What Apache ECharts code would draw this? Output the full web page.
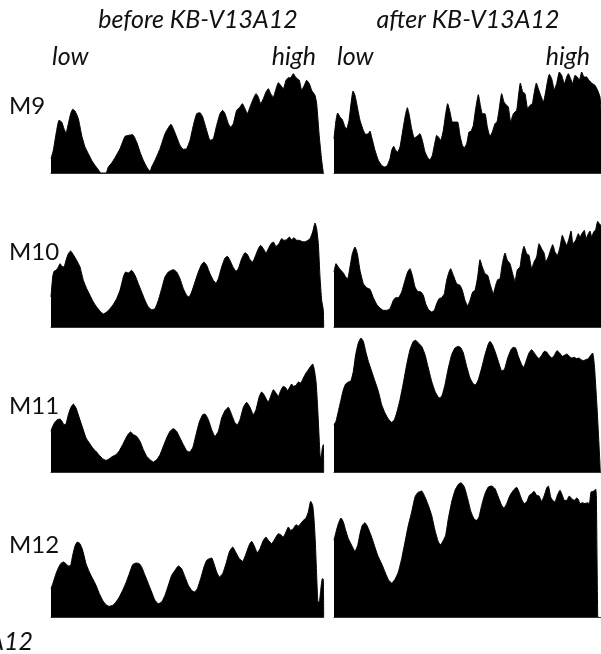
<!DOCTYPE html>
<html><head><meta charset="utf-8">
<script src="https://cdn.jsdelivr.net/npm/echarts@6/dist/echarts.min.js"></script>
<style>html,body{margin:0;padding:0;background:#fff}#c{width:601px;height:654px}</style>
</head><body><div id="c"></div>
<script>
// Column headers, end labels and row (marker) labels
const columnTitles = ['before KB-V13A12', 'after KB-V13A12'];
const endLabels = ['low', 'high'];
const rowLabels = ['M9', 'M10', 'M11', 'M12'];

// Densitometry profiles: [lane position, signal intensity] (arbitrary units)
const m9Before = [[0,43],[7,68],[17,128],[24,158],[32,153],[39,133],[45,120],[52,148],[59,178],[65,191],[72,186],[82,163],[92,113],[102,78],[112,58],[122,38],[132,23],[142,10],[150,0],[165,0],[172,18],[182,30],[192,46],[207,73],[222,110],[232,113],[245,115],[257,93],[267,63],[277,38],[287,18],[297,5],[302,18],[312,38],[327,73],[342,118],[352,136],[360,146],[367,133],[377,108],[387,83],[397,71],[407,73],[417,98],[427,143],[437,178],[447,181],[455,168],[467,128],[477,98],[487,103],[497,143],[507,178],[515,188],[522,178],[532,148],[539,138],[547,148],[557,188],[567,198],[574,208],[582,193],[589,178],[597,198],[607,223],[615,238],[622,228],[629,208],[637,223],[645,243],[652,253],[659,238],[667,228],[675,253],[682,271],[689,263],[697,253],[705,278],[712,286],[719,286],[727,298],[735,286],[745,278],[752,248],[760,263],[767,278],[775,268],[782,248],[792,233],[797,208],[805,108],[812,38],[817,0]];
const m9After = [[0,103],[6,158],[11,180],[18,168],[25,160],[33,138],[38,133],[45,158],[51,208],[57,246],[63,233],[70,198],[78,158],[88,128],[95,116],[103,118],[108,126],[113,108],[123,68],[133,38],[143,23],[151,18],[159,21],[168,43],[173,68],[179,80],[185,68],[191,63],[198,78],[208,138],[215,178],[220,196],[225,178],[233,133],[241,105],[249,110],[258,118],[265,98],[273,63],[283,43],[288,40],[295,53],[303,93],[308,113],[313,108],[320,98],[328,128],[335,178],[341,208],[348,183],[355,153],[363,153],[371,153],[378,113],[385,83],[391,76],[398,88],[405,123],[411,125],[418,143],[425,193],[433,235],[439,203],[445,178],[453,178],[460,138],[468,110],[475,123],[483,148],[489,153],[495,188],[503,238],[510,213],[518,203],[523,198],[530,153],[538,178],[548,188],[553,228],[559,270],[566,243],[573,238],[581,193],[588,203],[595,208],[601,243],[607,270],[613,253],[620,233],[628,213],[635,243],[641,278],[646,296],[653,283],[661,250],[668,268],[676,303],[683,293],[691,268],[698,288],[703,298],[710,283],[716,268],[723,293],[730,288],[736,278],[743,303],[750,288],[758,288],[765,278],[773,270],[783,263],[791,248],[798,228],[801,188]];
const m10Before = [[0,90],[5,150],[9,167],[15,170],[22,180],[27,190],[33,182],[39,180],[45,200],[52,220],[59,228],[67,217],[77,200],[87,180],[97,140],[107,115],[117,95],[127,75],[137,60],[147,48],[157,39],[167,45],[177,55],[187,68],[197,85],[207,110],[217,150],[224,165],[232,162],[242,170],[252,155],[262,130],[272,105],[282,80],[292,60],[302,52],[312,55],[322,80],[332,115],[342,150],[352,165],[367,172],[377,165],[387,145],[397,115],[407,95],[414,90],[422,105],[432,135],[442,165],[452,188],[459,195],[467,185],[477,160],[487,140],[495,132],[502,145],[512,180],[522,207],[529,212],[537,200],[545,182],[555,167],[562,175],[572,205],[582,223],[589,218],[597,202],[605,195],[612,210],[622,235],[629,245],[637,235],[645,222],[652,235],[660,250],[667,255],[675,242],[684,250],[692,265],[699,260],[707,262],[715,270],[722,262],[729,268],[737,260],[745,260],[752,257],[759,255],[767,258],[777,265],[785,285],[792,312],[797,295],[802,250],[807,150],[812,80],[817,50],[818,0]];
const m10After = [[0,165],[6,190],[13,180],[21,170],[28,162],[35,150],[41,145],[48,180],[55,220],[63,240],[70,220],[78,170],[88,130],[98,118],[108,113],[118,88],[128,68],[138,57],[148,50],[158,50],[168,55],[178,80],[185,88],[193,88],[203,105],[213,140],[221,165],[228,175],[235,155],[243,120],[251,107],[261,105],[268,95],[275,70],[283,53],[293,45],[301,50],[308,70],[315,85],[323,88],[331,100],[338,140],[345,165],[350,175],[358,155],[368,130],[378,125],[385,110],[393,80],[401,63],[408,80],[416,105],[423,110],[431,150],[438,202],[445,180],[453,160],[461,155],[468,130],[478,100],[485,125],[491,142],[498,145],[505,190],[513,222],[520,200],[528,190],[536,160],[543,137],[550,172],[558,180],[563,215],[570,242],[578,220],[585,215],[593,175],[600,195],[608,210],[615,250],[623,235],[631,220],[635,195],[643,210],[651,235],[656,247],[663,225],[670,215],[678,240],[685,275],[691,260],[698,245],[705,265],[711,288],[717,250],[725,260],[733,280],[738,270],[745,282],[751,290],[756,265],[763,280],[768,288],[773,270],[779,285],[785,292],[791,317],[796,310],[801,305]];
const m11Before = [[0,122],[5,137],[12,150],[19,157],[27,159],[33,152],[39,142],[45,144],[52,172],[59,192],[67,204],[75,192],[85,162],[95,132],[105,102],[115,87],[125,72],[135,62],[145,50],[155,40],[165,35],[175,40],[185,47],[195,52],[205,64],[215,82],[225,102],[232,114],[239,120],[247,112],[257,107],[267,92],[277,67],[287,47],[297,37],[307,30],[317,37],[327,52],[337,77],[347,102],[357,122],[367,130],[377,122],[387,102],[397,82],[407,64],[415,60],[425,72],[435,112],[445,150],[455,172],[462,174],[472,157],[482,127],[492,107],[502,122],[512,162],[522,184],[532,194],[542,172],[552,147],[559,142],[567,157],[577,194],[587,209],[597,194],[607,172],[615,187],[625,227],[632,240],[639,232],[647,217],[652,210],[659,227],[667,247],[675,237],[682,227],[689,244],[697,257],[705,252],[709,244],[715,252],[722,264],[727,257],[735,260],[742,270],[749,267],[757,282],[765,297],[772,307],[779,317],[785,324],[790,307],[795,272],[799,212],[803,132],[807,52],[810,42],[814,72],[817,82],[818,0]];
const m11After = [[0,142],[6,152],[13,182],[21,217],[28,247],[35,264],[43,270],[51,274],[58,302],[65,352],[73,387],[81,402],[88,392],[95,362],[103,332],[113,302],[123,272],[133,242],[143,202],[153,177],[163,159],[173,149],[181,157],[188,177],[198,217],[208,267],[218,322],[228,367],[238,392],[245,395],[253,387],[263,377],[273,352],[283,312],[293,272],[303,242],[313,224],[318,222],[325,232],[333,262],[343,312],[353,352],[363,372],[373,377],[381,372],[388,357],[398,317],[408,282],[418,264],[425,262],[433,277],[443,312],[453,352],[463,384],[468,392],[475,382],[483,362],[493,332],[503,304],[511,307],[521,342],[531,367],[538,374],[545,372],[553,347],[563,322],[569,314],[576,332],[585,357],[593,367],[601,357],[608,347],[615,340],[623,350],[631,362],[638,360],[645,350],[653,342],[661,350],[669,364],[677,357],[685,347],[691,350],[699,354],[706,347],[713,342],[721,344],[728,340],[735,342],[741,337],[748,334],[755,337],[763,340],[770,350],[776,357],[781,322],[788,212],[795,82],[799,0]];
const m12Before = [[0,85],[7,105],[15,130],[22,147],[29,160],[37,165],[45,160],[52,153],[59,155],[65,185],[72,213],[79,225],[87,220],[95,200],[105,160],[115,135],[125,115],[135,95],[145,70],[155,50],[165,37],[175,32],[185,35],[195,45],[205,60],[215,80],[225,103],[235,130],[245,157],[255,162],[265,160],[272,150],[282,125],[292,100],[302,75],[312,50],[322,40],[332,45],[342,65],[352,95],[362,125],[372,140],[382,153],[392,145],[402,120],[412,95],[422,80],[430,75],[439,85],[449,115],[459,150],[467,170],[475,175],[482,177],[489,160],[497,135],[505,120],[515,130],[525,160],[535,195],[545,210],[555,193],[565,175],[575,167],[585,190],[595,217],[602,227],[609,215],[619,193],[627,205],[637,230],[645,240],[652,230],[662,220],[672,235],[682,250],[689,247],[697,240],[705,255],[712,270],[719,260],[727,265],[735,277],[742,273],[749,280],[757,290],[765,297],[772,315],[779,347],[785,335],[789,295],[793,225],[797,125],[801,45],[805,45],[809,80],[814,115],[817,113],[818,0]];
const m12After = [[0,230],[6,255],[13,280],[21,297],[28,285],[35,260],[43,235],[53,215],[63,197],[71,215],[78,250],[85,275],[93,283],[101,270],[111,245],[121,215],[131,185],[138,170],[145,155],[153,135],[163,112],[173,102],[183,113],[193,135],[203,175],[213,225],[223,275],[233,315],[243,360],[251,373],[263,378],[273,360],[283,335],[293,305],[303,260],[313,225],[320,217],[328,230],[335,245],[343,295],[353,345],[363,380],[373,398],[381,403],[391,390],[401,355],[411,315],[421,293],[428,290],[435,300],[443,335],[453,370],[463,390],[473,393],[483,385],[493,360],[503,335],[510,327],[518,340],[528,365],[538,380],[548,389],[555,375],[563,353],[571,340],[579,347],[586,365],[593,370],[600,377],[608,365],[615,363],[623,347],[631,365],[638,387],[643,393],[650,360],[656,350],[663,345],[670,365],[678,380],[685,365],[691,350],[698,350],[706,363],[713,355],[721,350],[728,357],[733,353],[738,340],[745,343],[753,340],[760,343],[766,340],[771,375],[778,377],[785,383],[787,365],[791,5],[792,0]];

const profiles = [m9Before, m9After, m10Before, m10After, m11Before, m11After, m12Before, m12After];

// panel layout (pixels): left, top, width, height
const panels = [
  {left: 51,  top: 70,  w: 272.67, h: 103},
  {left: 334, top: 70,  w: 267,    h: 103},
  {left: 51,  top: 220, w: 272.67, h: 107},
  {left: 334, top: 220, w: 267,    h: 107},
  {left: 51,  top: 360, w: 272.67, h: 112},
  {left: 334, top: 336, w: 267,    h: 136},
  {left: 51,  top: 497, w: 272.67, h: 120},
  {left: 334, top: 480, w: 267,    h: 137}
];

const chart = echarts.init(document.getElementById('c'), null, {renderer: 'canvas'});
const FONT = 'Lato';
const grid = [], xAxis = [], yAxis = [], series = [];
panels.forEach((p, i) => {
  grid.push({left: p.left, top: p.top, width: p.w, height: p.h, containLabel: false});
  xAxis.push({type: 'value', gridIndex: i, min: 0, max: Math.round(p.w * 3),
    axisLine: {show: true, lineStyle: {color: '#333', width: 1}}, axisTick: {show: false},
    axisLabel: {show: false}, splitLine: {show: false}});
  yAxis.push({type: 'value', gridIndex: i, min: 0, max: Math.round(p.h * 3), show: false, splitLine: {show: false}});
  series.push({type: 'line', xAxisIndex: i, yAxisIndex: i, data: profiles[i], symbol: 'none',
    smooth: 0.15, silent: true, animation: false,
    lineStyle: {color: '#000', width: 1}, areaStyle: {color: '#000', opacity: 1}});
});

const texts = [
  {x: 198, y: 20, text: columnTitles[0], align: 'center', italic: true, size: 25},
  {x: 468, y: 20, text: columnTitles[1], align: 'center', italic: true, size: 25},
  {x: 52, y: 57, text: endLabels[0], align: 'left', italic: true, size: 25},
  {x: 316, y: 57, text: endLabels[1], align: 'right', italic: true, size: 25},
  {x: 337, y: 57, text: endLabels[0], align: 'left', italic: true, size: 25},
  {x: 590, y: 57, text: endLabels[1], align: 'right', italic: true, size: 25},
  {x: 9, y: 106, text: rowLabels[0], align: 'left', italic: false, size: 24},
  {x: 9, y: 252, text: rowLabels[1], align: 'left', italic: false, size: 24},
  {x: 9, y: 406, text: rowLabels[2], align: 'left', italic: false, size: 24},
  {x: 9, y: 545, text: rowLabels[3], align: 'left', italic: false, size: 24},
  {x: 33, y: 642, text: 'KB-V13A12', align: 'right', italic: true, size: 25}
];
const graphic = texts.map(t => ({type: 'text', x: t.x, y: t.y, silent: true,
  style: {text: t.text, fill: '#111', font: (t.italic ? 'italic ' : '') + t.size + 'px ' + FONT,
    textAlign: t.align, textVerticalAlign: 'middle'}}));

chart.setOption({animation: false, backgroundColor: '#fff', grid, xAxis, yAxis, series, graphic});
</script></body></html>
